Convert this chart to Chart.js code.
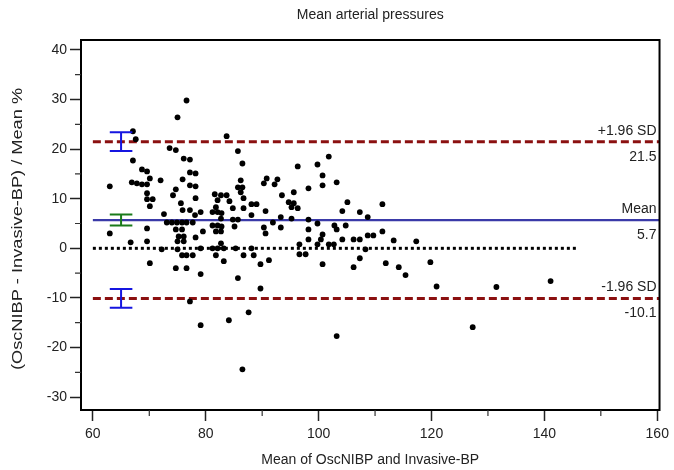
<!DOCTYPE html>
<html><head><meta charset="utf-8">
<script src="https://cdn.jsdelivr.net/npm/chart.js@4.4.1/dist/chart.umd.min.js"></script>
<style>html,body{margin:0;padding:0;background:#fff;}#wrap{width:674px;height:470px;}</style>
</head><body><div id="wrap"><canvas id="c" width="674" height="470"></canvas></div>
<script>
const chartTitle = 'Mean arterial pressures';
const xAxisTitle = 'Mean of OscNIBP and Invasive-BP';
const yAxisTitle = '(OscNIBP - Invasive-BP) / Mean %';

const meanBP = [63.0,63.0,66.7,67.1,67.6,67.1,68.7,69.6,70.1,66.9,67.8,68.7,69.6,69.6,69.6,70.6,70.1,69.6,69.6,70.1,
72.0,72.6,73.1,74.0,74.9,75.8,76.6,77.7,74.7,75.8,75.2,76.1,75.0,76.1,72.2,75.0,75.8,76.6,77.7,74.7,
76.6,76.6,75.0,73.6,74.7,76.1,77.2,77.2,78.2,75.9,77.2,78.2,74.7,74.2,75.6,75.9,77.2,78.1,78.2,77.2,
78.2,79.1,81.2,82.1,82.8,81.6,82.7,83.7,82.1,84.2,81.8,84.8,86.7,86.7,85.7,86.5,83.7,85.7,86.5,86.2,
86.2,88.1,89.0,82.7,84.8,85.7,88.1,81.2,82.1,82.8,85.1,79.5,81.8,82.7,82.7,79.1,81.2,82.1,83.2,85.3,
88.1,81.8,86.7,88.5,83.2,89.7,79.1,85.7,89.7,87.6,84.1,79.1,86.5,90.3,90.8,92.2,92.7,93.5,90.6,90.3,
90.6,91.9,93.3,95.2,93.3,94.7,95.6,95.2,96.3,95.6,96.3,98.2,98.2,98.2,98.2,96.6,96.6,97.7,91.2,99.8,
101.8,100.7,100.7,103.2,105.1,104.2,107.3,111.3,108.7,99.8,102.8,103.2,104.8,100.7,100.4,104.2,106.2,107.3,108.7,109.7,
99.8,101.8,102.7,111.3,113.3,117.3,108.3,107.3,100.7,106.2,111.9,114.2,115.4,119.8,120.9,103.2,131.5,141.1,127.3];

const pctDiff = [12.5,3.0,1.2,23.6,22.0,17.7,15.9,15.5,14.1,13.3,13.1,12.9,12.9,11.1,9.9,9.9,8.5,4.0,1.4,-3.0,
13.7,6.9,5.2,5.2,5.2,5.2,5.2,5.2,3.8,3.8,2.4,2.4,1.4,1.4,-0.2,-0.2,-1.4,-1.4,-1.4,-4.0,
-4.0,29.8,26.4,20.2,19.8,18.1,17.9,15.3,15.1,13.9,12.7,12.5,11.9,10.7,9.1,7.7,7.7,6.7,10.1,-10.7,
2.2,7.3,7.3,7.3,7.1,10.9,10.7,10.7,9.7,9.5,8.3,8.1,8.1,10.1,12.3,12.3,22.6,19.6,17.1,13.7,
11.3,8.9,8.9,6.0,5.8,5.8,6.7,4.6,4.6,4.4,4.4,3.4,3.4,3.4,1.0,0,0,0,0,0,
0,-1.4,-1.4,-1.4,-2.6,-3.2,-5.2,-6.0,-8.1,-12.9,-14.5,-15.5,-24.4,13.1,14.1,12.9,13.9,10.7,7.5,4.2,
3.0,5.2,6.3,6.0,4.2,9.3,9.1,8.3,8.1,11.3,16.5,12.1,5.8,3.8,1.8,0.8,-1.2,-1.2,-2.4,16.9,
18.5,14.7,12.7,13.3,9.3,7.5,7.3,8.9,6.3,5.0,4.6,3.8,4.6,2.8,1.8,1.8,1.8,1.8,2.6,2.6,
0.8,0.8,0.8,3.4,1.6,1.4,-0.2,-2.0,-3.2,-3.8,-3.0,-3.8,-5.4,-2.8,-7.7,-17.7,-7.8,-6.6,-15.9];

const meanDiff = 5.7;
const upperLoA = 21.5;
const lowerLoA = -10.1;
const ciUpper = [19.6, 23.4];
const ciMean = [4.6, 6.8];
const ciLower = [-12.0, -8.2];
const ciX = 65;
const lineStartX = 60;
const zeroLineEndX = 146;
const xMin = 57.9, xMax = 160.4;
const yMin = -32.6, yMax = 42.0;
const lineLabels = [
  {value: upperLoA, above: '+1.96 SD', below: '21.5'},
  {value: meanDiff, above: 'Mean', below: '5.7'},
  {value: lowerLoA, above: '-1.96 SD', below: '-10.1'}
];

const FONT = "'Liberation Sans', Arial, sans-serif";
const TXT = '#222';
const FS = 14;

const decor = {
  id: 'decor',
  afterDatasetsDraw(chart) {
    const {ctx, chartArea: a, scales: {x, y}} = chart;
    ctx.save();
    const drawErr = (lo, hi, color) => {
      const px = x.getPixelForValue(ciX);
      const p1 = y.getPixelForValue(lo), p2 = y.getPixelForValue(hi);
      const hw = (x.getPixelForValue(ciX + 2) - px);
      ctx.strokeStyle = color; ctx.lineWidth = 2;
      ctx.beginPath();
      ctx.moveTo(px, p1); ctx.lineTo(px, p2);
      ctx.moveTo(px - hw, p1); ctx.lineTo(px + hw, p1);
      ctx.moveTo(px - hw, p2); ctx.lineTo(px + hw, p2);
      ctx.stroke();
    };
    drawErr(ciUpper[0], ciUpper[1], '#1515e0');
    drawErr(ciMean[0], ciMean[1], '#1a7a1a');
    drawErr(ciLower[0], ciLower[1], '#1515e0');
    ctx.fillStyle = TXT;
    ctx.font = FS + 'px ' + FONT;
    ctx.textAlign = 'right';
    ctx.textBaseline = 'middle';
    lineLabels.forEach(l => {
      const py = y.getPixelForValue(l.value);
      ctx.fillText(l.above, a.right - 3, py - 11);
      ctx.fillText(l.below, a.right - 3, py + 15);
    });
    ctx.strokeStyle = '#000'; ctx.lineWidth = 2;
    ctx.strokeRect(a.left, a.top, a.right - a.left, a.bottom - a.top);
    ctx.lineWidth = 1.2; ctx.strokeStyle = '#333';
    ctx.beginPath();
    for (let v = 70; v <= 150; v += 20) {
      const px = x.getPixelForValue(v);
      ctx.moveTo(px, a.bottom); ctx.lineTo(px, a.bottom + 6);
    }
    for (let v = -25; v <= 35; v += 10) {
      const py = y.getPixelForValue(v);
      ctx.moveTo(a.left, py); ctx.lineTo(a.left - 6, py);
    }
    ctx.stroke();
    ctx.fillStyle = TXT;
    ctx.textAlign = 'center';
    ctx.textBaseline = 'middle';
    ctx.font = FS + 'px ' + FONT;
    ctx.fillText(chartTitle, (a.left + a.right) / 2, 15);
    // y axis title (the source image is stretched along its vertical direction)
    ctx.save();
    ctx.translate(18, (a.top + a.bottom) / 2 + 4);
    ctx.rotate(-Math.PI / 2);
    ctx.scale(1.3, 1);
    ctx.fillText(yAxisTitle, 0, 0);
    ctx.restore();
    ctx.restore();
  }
};

const pts = meanBP.map((v, i) => ({x: v, y: pctDiff[i]}));

new Chart(document.getElementById('c'), {
  type: 'scatter',
  data: {
    datasets: [
      {data: pts, backgroundColor: '#000', borderColor: '#000', pointRadius: 2.9, pointHoverRadius: 2.9, borderWidth: 0},
      {data: [{x: lineStartX, y: meanDiff}, {x: xMax, y: meanDiff}], showLine: true, borderColor: '#3a3aa8', borderWidth: 2.2, pointRadius: 0},
      {data: [{x: lineStartX, y: upperLoA}, {x: xMax, y: upperLoA}], showLine: true, borderColor: '#8b1010', borderWidth: 3, borderDash: [8, 4], pointRadius: 0},
      {data: [{x: lineStartX, y: lowerLoA}, {x: xMax, y: lowerLoA}], showLine: true, borderColor: '#8b1010', borderWidth: 3, borderDash: [8, 4], pointRadius: 0},
      {data: [{x: lineStartX, y: 0}, {x: zeroLineEndX, y: 0}], showLine: true, borderColor: '#000', borderWidth: 3, borderDash: [3, 3], pointRadius: 0}
    ]
  },
  options: {
    responsive: false,
    animation: false,
    devicePixelRatio: 1,
    layout: {padding: {top: 40, right: 14, left: 0, bottom: 0}},
    plugins: {legend: {display: false}, tooltip: {enabled: false}, title: {display: false}},
    scales: {
      x: {
        type: 'linear', min: xMin, max: xMax,
        afterFit(s) { s.height = 60; },
        ticks: {stepSize: 20, includeBounds: false, color: TXT, font: {family: FONT, size: FS}, padding: 5, maxRotation: 0},
        grid: {drawOnChartArea: false, drawTicks: true, tickLength: 11, tickColor: '#222', tickWidth: 1.5},
        border: {display: false},
        title: {display: true, text: xAxisTitle, color: TXT, font: {family: FONT, size: FS}, padding: {top: 0, bottom: 1}}
      },
      y: {
        type: 'linear', min: yMin, max: yMax,
        afterFit(s) { s.width = 81; },
        ticks: {stepSize: 10, includeBounds: false, color: TXT, font: {family: FONT, size: FS}, padding: 3},
        grid: {drawOnChartArea: false, drawTicks: true, tickLength: 11, tickColor: '#222', tickWidth: 1.5},
        border: {display: false},
        title: {display: false}
      }
    }
  },
  plugins: [decor]
});
</script></body></html>
